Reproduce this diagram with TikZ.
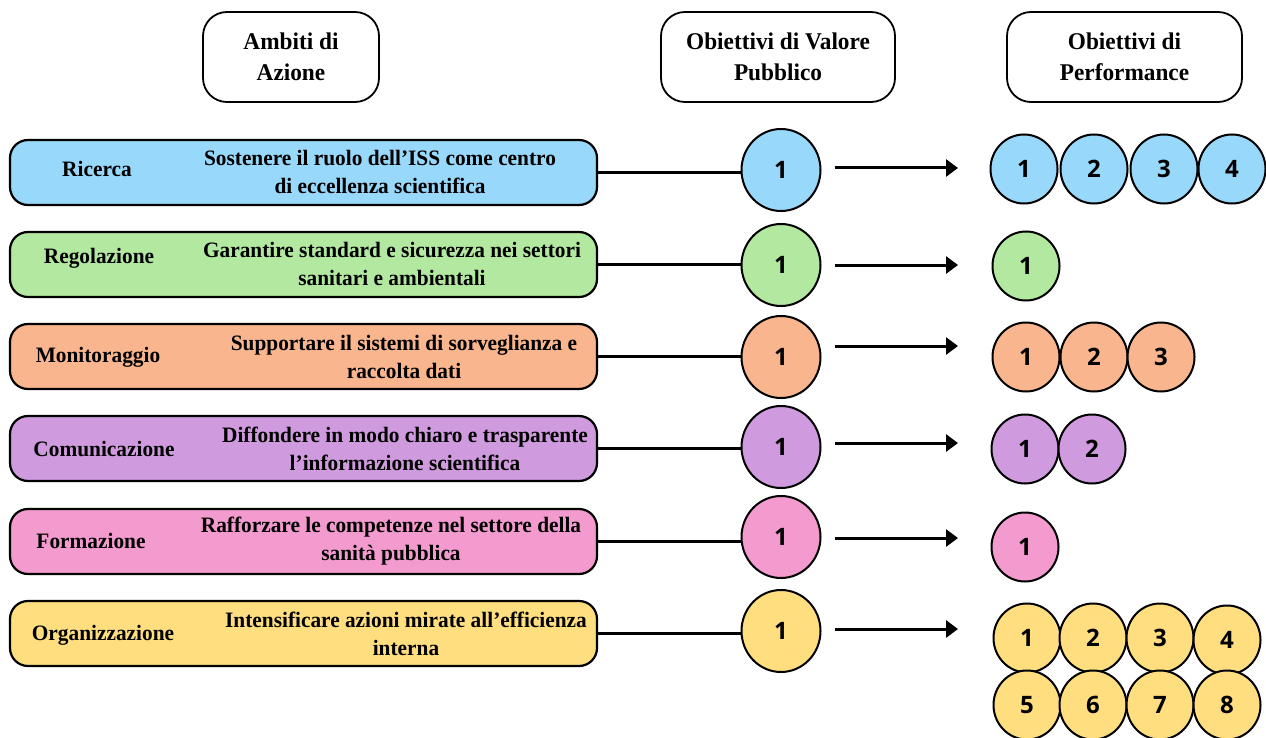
\documentclass[tikz,border=0pt]{standalone}
\usepackage{fontspec}
\setmainfont[FakeStretch=0.97]{Liberation Serif}
\newfontfamily\numfont{Open Sans}
\usetikzlibrary{shapes.geometric,arrows.meta}
\definecolor{cblue}{HTML}{98D8FA}
\definecolor{cgreen}{HTML}{B3E8A0}
\definecolor{corange}{HTML}{F9B68E}
\definecolor{cpurple}{HTML}{D09ADE}
\definecolor{cpink}{HTML}{F39ACE}
\definecolor{cyellow}{HTML}{FFDE80}
\begin{document}
\begin{tikzpicture}[x=1pt,y=-1pt,
  hdr/.style={draw, line width=1.8pt, rounded corners=24pt, minimum height=90pt, inner sep=0pt, align=center, font=\fontsize{24}{31}\selectfont\bfseries},
  rowbox/.style={draw, line width=2.2pt, rounded corners=18pt, minimum width=587pt, minimum height=65pt, inner sep=0pt},
  lbl/.style={font=\fontsize{22}{28}\selectfont\bfseries},
  desc/.style={align=center, inner sep=0pt, font=\fontsize{22}{28}\selectfont\bfseries},
  vpc/.style={draw, ellipse, line width=2pt, minimum width=79pt, minimum height=82pt, inner sep=0pt, font=\numfont\fontsize{24}{24}\selectfont\bfseries},
  pfc/.style={draw, ellipse, line width=2pt, minimum width=67pt, minimum height=69pt, inner sep=0pt, font=\numfont\fontsize{24}{24}\selectfont\bfseries},
  link/.style={line width=2.8pt},
  arr/.style={line width=3pt, -{Triangle[length=12pt,width=17pt]}}
]
\useasboundingbox[fill=white] (0,0) rectangle (1266,738);

% headers
\node[hdr, minimum width=176pt] (h1) at (291,57) {Ambiti di\\Azione};
\node[hdr, minimum width=234pt] (h2) at (778,57) {Obiettivi di Valore\\Pubblico};
\node[hdr, minimum width=235pt] (h3) at (1124.5,57) {Obiettivi di\\Performance};

% row 1 Ricerca
\node[rowbox, fill=cblue] (b1) at (303.5,172.5) {};
\node[lbl] (l1) at (97,169) {Ricerca};
\node[desc] (d1) at (380,172) {Sostenere il ruolo dell’ISS come centro\\di eccellenza scientifica};
\node[vpc, fill=cblue] (v1) at (781,170) {1};
\draw[link] (b1.east) -- (b1.east -| v1.west);
\coordinate (a1s) at (835,168);
\coordinate (a1e) at (958,168);
\draw[arr] (a1s) -- (a1e);
\node[pfc, fill=cblue] (p11) at (1024,169) {1};
\node[pfc, fill=cblue] (p12) at (1094,169) {2};
\node[pfc, fill=cblue] (p13) at (1164,169) {3};
\node[pfc, fill=cblue] (p14) at (1232,169) {4};

% row 2 Regolazione
\node[rowbox, fill=cgreen] (b2) at (303.5,264.5) {};
\node[lbl] (l2) at (99,258) {Regolazione};
\node[desc] (d2) at (392,264) {Garantire standard e sicurezza nei settori\\sanitari e ambientali};
\node[vpc, fill=cgreen] (v2) at (781,265) {1};
\draw[link] (b2.east) -- (b2.east -| v2.west);
\coordinate (a2s) at (835,265);
\coordinate (a2e) at (958,265);
\draw[arr] (a2s) -- (a2e);
\node[pfc, fill=cgreen] (p21) at (1026,266) {1};

% row 3 Monitoraggio
\node[rowbox, fill=corange] (b3) at (303.5,356.5) {};
\node[lbl] (l3) at (98,357) {Monitoraggio};
\node[desc] (d3) at (404,356.5) {Supportare il sistemi di sorveglianza e\\raccolta dati};
\node[vpc, fill=corange] (v3) at (781,357) {1};
\draw[link] (b3.east) -- (b3.east -| v3.west);
\coordinate (a3s) at (835,346);
\coordinate (a3e) at (958,346);
\draw[arr] (a3s) -- (a3e);
\node[pfc, fill=corange] (p31) at (1026,357) {1};
\node[pfc, fill=corange] (p32) at (1094,357) {2};
\node[pfc, fill=corange] (p33) at (1161,357) {3};

% row 4 Comunicazione
\node[rowbox, fill=cpurple] (b4) at (303.5,448.5) {};
\node[lbl] (l4) at (104,449) {Comunicazione};
\node[desc] (d4) at (405,449) {Diffondere in modo chiaro e trasparente\\l’informazione scientifica};
\node[vpc, fill=cpurple] (v4) at (781,447) {1};
\draw[link] (b4.east) -- (b4.east -| v4.west);
\coordinate (a4s) at (835,443);
\coordinate (a4e) at (958,443);
\draw[arr] (a4s) -- (a4e);
\node[pfc, fill=cpurple] (p41) at (1025,449) {1};
\node[pfc, fill=cpurple] (p42) at (1092,449) {2};

% row 5 Formazione
\node[rowbox, fill=cpink] (b5) at (303.5,541.5) {};
\node[lbl] (l5) at (91,541) {Formazione};
\node[desc] (d5) at (391,541.5) {Rafforzare le competenze nel settore della\\sanità pubblica};
\node[vpc, fill=cpink] (v5) at (781,537) {1};
\draw[link] (b5.east) -- (b5.east -| v5.west);
\coordinate (a5s) at (835,538);
\coordinate (a5e) at (958,538);
\draw[arr] (a5s) -- (a5e);
\node[pfc, fill=cpink] (p51) at (1025,547) {1};

% row 6 Organizzazione
\node[rowbox, fill=cyellow] (b6) at (303.5,633.5) {};
\node[lbl] (l6) at (103,635) {Organizzazione};
\node[desc] (d6) at (406,634) {Intensificare azioni mirate all’efficienza\\interna};
\node[vpc, fill=cyellow] (v6) at (781,631) {1};
\draw[link] (b6.east) -- (b6.east -| v6.west);
\coordinate (a6s) at (835,629);
\coordinate (a6e) at (958,629);
\draw[arr] (a6s) -- (a6e);
\node[pfc, fill=cyellow] (p61) at (1027,638) {1};
\node[pfc, fill=cyellow] (p62) at (1093,638) {2};
\node[pfc, fill=cyellow] (p63) at (1160,638) {3};
\node[pfc, fill=cyellow] (p64) at (1227,640) {4};
\node[pfc, fill=cyellow] (p65) at (1027,705) {5};
\node[pfc, fill=cyellow] (p66) at (1093,705) {6};
\node[pfc, fill=cyellow] (p67) at (1160,705) {7};
\node[pfc, fill=cyellow] (p68) at (1227,705) {8};
\end{tikzpicture}
\end{document}
